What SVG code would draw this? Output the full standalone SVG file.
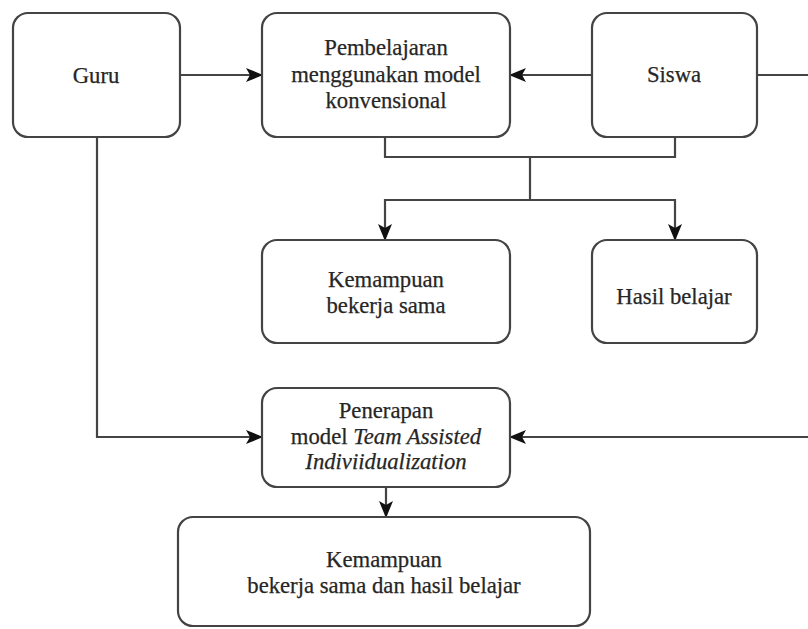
<svg xmlns="http://www.w3.org/2000/svg" width="808" height="629" viewBox="0 0 808 629">
<defs>
<marker id="ah" viewBox="0 0 17 14" refX="16" refY="7" markerWidth="17" markerHeight="14" markerUnits="userSpaceOnUse" orient="auto">
<path d="M0,0 L17,7 L0,14 L4,7 z" fill="#111"/>
</marker>
<style>
.box{fill:#fff;stroke:#444;stroke-width:2.2}
.t{font-size:22.7px;fill:#262626;stroke:#262626;stroke-width:0.25;text-anchor:middle}
.i{font-style:italic}
.c{fill:none;stroke:#444;stroke-width:2.2}
</style>
</defs>
<rect width="808" height="629" fill="#fff"/>
<g id="connectors">
<path class="c" d="M180,75 H262" marker-end="url(#ah)"/>
<path class="c" d="M592,75 H510" marker-end="url(#ah)"/>
<path class="c" d="M385,137 V157 H675 V137"/>
<path class="c" d="M530,157 V200 H385 V240" marker-end="url(#ah)"/>
<path class="c" d="M530,200 H675 V240" marker-end="url(#ah)"/>
<path class="c" d="M97,137 V437 H262" marker-end="url(#ah)"/>
<path class="c" d="M757,75 H820 V437 H510" marker-end="url(#ah)"/>
<path class="c" d="M386,487 V517" marker-end="url(#ah)"/>
</g>
<g font-family="'Liberation Serif', 'DejaVu Serif', 'Times New Roman', serif">
<g id="guru">
<rect class="box" x="13" y="13" width="167" height="124" rx="15"/>
<text class="t" x="96" y="83">Guru</text>
</g>
<g id="pembelajaran">
<rect class="box" x="262" y="13" width="248" height="124" rx="15"/>
<text class="t" x="386" y="55">Pembelajaran</text>
<text class="t" x="386" y="82">menggunakan model</text>
<text class="t" x="386" y="108">konvensional</text>
</g>
<g id="siswa">
<rect class="box" x="592" y="13" width="165" height="124" rx="15"/>
<text class="t" x="674" y="82">Siswa</text>
</g>
<g id="kemampuan">
<rect class="box" x="262" y="240" width="248" height="103" rx="15"/>
<text class="t" x="386" y="287">Kemampuan</text>
<text class="t" x="386" y="313">bekerja sama</text>
</g>
<g id="hasil">
<rect class="box" x="592" y="240" width="165" height="103" rx="15"/>
<text class="t" x="674" y="304">Hasil belajar</text>
</g>
<g id="penerapan">
<rect class="box" x="262" y="388" width="248" height="99" rx="15"/>
<text class="t" x="386" y="418">Penerapan</text>
<text class="t" x="386" y="444">model <tspan class="i">Team Assisted</tspan></text>
<text class="t i" x="386" y="469">Indiviidualization</text>
</g>
<g id="hasil-akhir">
<rect class="box" x="178" y="517" width="412" height="109" rx="15"/>
<text class="t" x="384" y="567">Kemampuan</text>
<text class="t" x="384" y="593">bekerja sama dan hasil belajar</text>
</g>
</g>
</svg>
